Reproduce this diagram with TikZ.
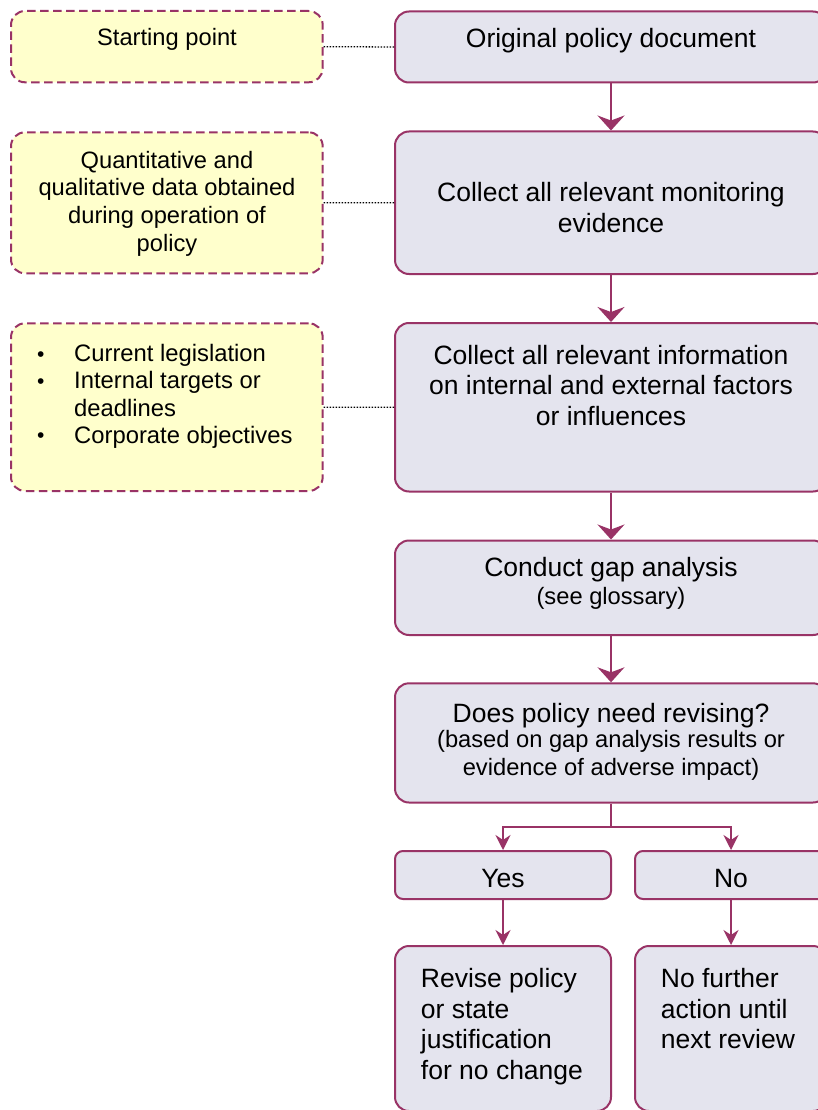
\documentclass[tikz,border=0pt]{standalone}
\usepackage{fontspec}
\setmainfont{Liberation Sans}
\usetikzlibrary{arrows.meta}
\definecolor{plum}{HTML}{993366}
\definecolor{lav}{HTML}{E4E4EE}
\definecolor{note}{HTML}{FFFFCC}
\newcommand\mainsz{\fontsize{26.5}{30.5}\selectfont}
\newcommand\smallsz{\fontsize{23.7}{27.8}\selectfont}
\newcommand\cellstack[2][c]{\begin{tabular}[t]{@{}#1@{}}#2\end{tabular}}
\newcommand\bul{\makebox[37pt][l]{\raisebox{0.5pt}{\fontsize{21}{21}\selectfont •}}}
\tikzset{
  mainbox/.style={draw=plum, fill=lav, line width=2pt, rounded corners=14pt, inner sep=0pt},
  smallbox/.style={mainbox, rounded corners=8pt},
  notebox/.style={draw=plum, fill=note, line width=2pt, dash pattern=on 8.5pt off 4.5pt, rounded corners=14pt, inner sep=0pt},
  txt/.style={inner sep=0pt, anchor=base},
  flow/.style={draw=plum, line width=2pt, -{Stealth[length=15pt,width=27pt,inset=5pt]}},
  branch/.style={draw=plum, line width=2pt, -{Stealth[length=15pt,width=15pt,inset=5pt]}},
  link/.style={draw=black, line width=1.3pt, dash pattern=on 1.3pt off 1.7pt},
}
\begin{document}
\begin{tikzpicture}[x=1pt,y=-1pt]
\useasboundingbox (0,0) rectangle (818,1110);
\clip (0,0) rectangle (818,1110);
\fill[white] (0,0) rectangle (818,1110);

% main column boxes
\node[mainbox, minimum width=432, minimum height=71] (b1) at (611,47) {};
\node[mainbox, minimum width=432, minimum height=142.5] (b2) at (611,202.75) {};
\node[mainbox, minimum width=432, minimum height=168.5] (b3) at (611,407.25) {};
\node[mainbox, minimum width=432, minimum height=94.5] (b4) at (611,587.75) {};
\node[mainbox, minimum width=432, minimum height=119.2] (b5) at (611,742.9) {};
\node[smallbox, minimum width=216, minimum height=48] (yes) at (503,875) {};
\node[smallbox, minimum width=192, minimum height=48] (no) at (731,875) {};
\node[mainbox, minimum width=216, minimum height=165] (rev) at (503,1028.5) {};
\node[mainbox, minimum width=192, minimum height=165] (nfa) at (731,1028.5) {};

% note boxes
\node[notebox, minimum width=311.7, minimum height=71.3] (nA) at (166.85,46.65) {};
\node[notebox, minimum width=311.7, minimum height=141] (nB) at (166.85,202.8) {};
\node[notebox, minimum width=311.7, minimum height=167.7] (nC) at (166.85,407.15) {};

% texts
\node[txt, font=\mainsz] (t1) at (611,47.5) {\cellstack{Original policy document}};
\node[txt, font=\mainsz] (t2) at (611,201.7) {\cellstack{Collect all relevant monitoring\\evidence}};
\node[txt, font=\mainsz] (t3) at (611,364) {\cellstack{Collect all relevant information\\on internal and external factors\\or influences}};
\node[txt, font=\smallsz] (t4) at (611,576.7) {\cellstack{{\mainsz Conduct gap analysis}\\(see glossary)}};
\node[txt, font=\smallsz] (t5) at (611,722) {\cellstack{{\mainsz Does policy need revising?}\\[-2pt](based on gap analysis results or\\evidence of adverse impact)}};
\node[txt, font=\mainsz] (tyes) at (503,887) {Yes};
\node[txt, font=\mainsz] (tno) at (731,887) {No};
\node[txt, font=\mainsz, anchor=base west] (trev) at (420.7,987.5) {\cellstack[l]{Revise policy\\or state\\justification\\for no change}};
\node[txt, font=\mainsz, anchor=base west] (tnfa) at (660.7,987.5) {\cellstack[l]{No further\\action until\\next review}};

\node[txt, font=\smallsz] (tA) at (167,46) {\cellstack{Starting point}};
\node[txt, font=\smallsz] (tB) at (167,168) {\cellstack{Quantitative and\\qualitative data obtained\\during operation of\\policy}};
\node[txt, font=\fontsize{23.8}{27.2}\selectfont, anchor=base west] (tC) at (37,361.7)
  {\begin{tabular}[t]{@{}l@{}l@{}}\bul & Current legislation\\ \bul & Internal targets or\\ & deadlines\\ \bul & Corporate objectives\end{tabular}};

% connectors
\draw[flow] (b1.south) -- (b2.north);
\draw[flow] (b2.south) -- (b3.north);
\draw[flow] (b3.south) -- (b4.north);
\draw[flow] (b4.south) -- (b5.north);
\coordinate (split) at (611,827);
\draw[draw=plum, line width=2pt] (b5.south) -- (split);
\draw[branch] (split) -| (yes.north);
\draw[branch] (split) -| (no.north);
\draw[branch] (yes.south) -- (rev.north);
\draw[branch] (no.south) -- (nfa.north);

\draw[link] (nA.east) -- (b1.west);
\draw[link] (nB.east) -- (b2.west);
\draw[link] (nC.east) -- (b3.west);
\end{tikzpicture}
\end{document}
